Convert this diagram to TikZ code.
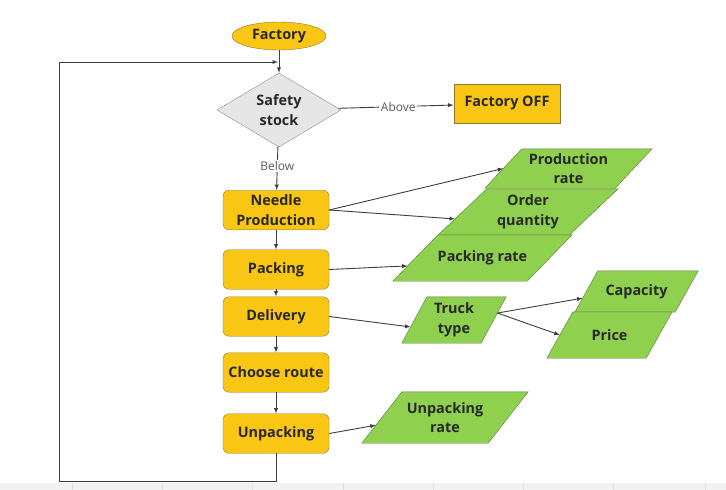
\documentclass[tikz,border=0pt]{standalone}
\usepackage{fontspec}
\setmainfont{Open Sans}
\usetikzlibrary{shapes.geometric,calc,backgrounds}
\definecolor{boxyellow}{RGB}{250,198,20}
\definecolor{boxedge}{RGB}{140,118,50}
\definecolor{datagreen}{RGB}{143,208,79}
\definecolor{dataedge}{RGB}{92,122,62}
\definecolor{stockgray}{RGB}{230,230,230}
\definecolor{linegray}{RGB}{60,60,68}
\definecolor{textdark}{RGB}{40,40,40}

% slanted data box behind a text node: name, slant
\newcommand\datashape[2]{%
\begin{pgfonlayer}{background}
\coordinate (#1-bl) at ([xshift=-#2/2]#1.south west);
\coordinate (#1-tl) at ([xshift=#2/2]#1.north west);
\coordinate (#1-br) at ([xshift=-#2/2]#1.south east);
\coordinate (#1-tr) at ([xshift=#2/2]#1.north east);
\draw[dataedge,fill=datagreen] (#1-bl) -- (#1-br) -- (#1-tr) -- (#1-tl) -- cycle;
\end{pgfonlayer}}

\begin{document}
\begin{tikzpicture}[x=1pt,y=-1pt,
  every node/.style={font=\bfseries\fontsize{14.4}{19.5}\selectfont,text=textdark,align=center,inner sep=0pt},
  startnode/.style={ellipse,draw=boxedge,fill=boxyellow,minimum width=94pt,minimum height=28pt},
  check/.style={diamond,aspect=1.68,draw=black!45,fill=stockgray,minimum width=124pt,minimum height=74pt},
  offbox/.style={rectangle,draw=boxedge,line width=0.9pt,fill=boxyellow,minimum width=106pt,minimum height=39pt},
  procbox/.style={rectangle,rounded corners=6pt,draw=boxedge,fill=boxyellow,minimum width=106pt,minimum height=39.5pt},
  databox/.style={rectangle},
  conn/.style={draw=linegray,line width=0.9pt,-latex},
  lbl/.style={font=\fontsize{12}{14}\selectfont,text=black!65,fill=white,inner sep=1.5pt}]

\useasboundingbox (0,0) rectangle (726,490);

% canvas strip
\fill[gray!10] (0,483) rectangle (726,490);
\foreach\x in {72, 162, 252, 343, 433, 523, 613, 705}
\draw[gray!25] (\x,483) -- (\x,490);

% main flow
\node[startnode] (factory) at (279,36) {Factory};
\node[check] (stock) at (279,110) {Safety\\stock};
\node[offbox] (off) at (507,103.5) {Factory OFF};
\node[procbox] (needle) at (276,210) {Needle\\Production};
\node[procbox] (packing) at (276,269.5) {Packing};
\node[procbox] (delivery) at (276,316.5) {Delivery};
\node[procbox] (route) at (276,372.5) {Choose route};
\node[procbox] (unpacking) at (276,433.5) {Unpacking};

% data
\node[databox,minimum width=130pt,minimum height=39pt] (prodrate) at (568.5,168.5) {Production\\rate};
\node[databox,minimum width=131pt,minimum height=46pt] (orderqty) at (528,212) {Order\\quantity};
\node[databox,minimum width=134pt,minimum height=46pt] (packrate) at (482.5,258) {Packing rate};
\node[databox,minimum width=79pt,minimum height=46pt] (truck) at (454,320) {Truck\\type};
\node[databox,minimum width=100pt,minimum height=41pt] (capacity) at (636.5,291.5) {Capacity};
\node[databox,minimum width=99pt,minimum height=46pt] (price) at (609.5,335) {Price};
\node[databox,minimum width=126pt,minimum height=51pt] (unpackrate) at (445,417.5) {Unpacking\\rate};
\datashape{prodrate}{37}
\datashape{orderqty}{49}
\datashape{packrate}{45}
\datashape{truck}{25}
\datashape{capacity}{23}
\datashape{price}{26}
\datashape{unpackrate}{40}

% arrows
\coordinate (back) at (278,62);
\coordinate (corner) at (59,481);
\draw[conn] (factory) -- (stock);
\draw[conn] (stock) -- node[lbl,pos=0.52] {Above} (off);
\draw[conn] (stock) -- node[lbl,pos=0.44] {Below} (needle);
\draw[conn] (needle) -- (packing);
\draw[conn] (packing) -- (delivery);
\draw[conn] (delivery) -- (route);
\draw[conn] (route) -- (unpacking);
\draw[conn] (unpacking.south) |- (corner) |- (back);

\draw[conn] (needle.east) -- (prodrate.west);
\draw[conn] (needle.east) -- ($(orderqty-bl)!0.35!(orderqty-tl)$);
\draw[conn] (packing.east) -- ($(packrate-bl)!0.33!(packrate-tl)$);
\draw[conn] (delivery.east) -- ($(truck-bl)!0.35!(truck-tl)$);
\draw[conn] ($(truck-br)!0.65!(truck-tr)$) -- ($(capacity-bl)!0.34!(capacity-tl)$);
\draw[conn] ($(truck-br)!0.65!(truck-tr)$) -- (price.west);
\draw[conn] (unpacking.east) -- ($(unpackrate-bl)!0.35!(unpackrate-tl)$);
\end{tikzpicture}
\end{document}
